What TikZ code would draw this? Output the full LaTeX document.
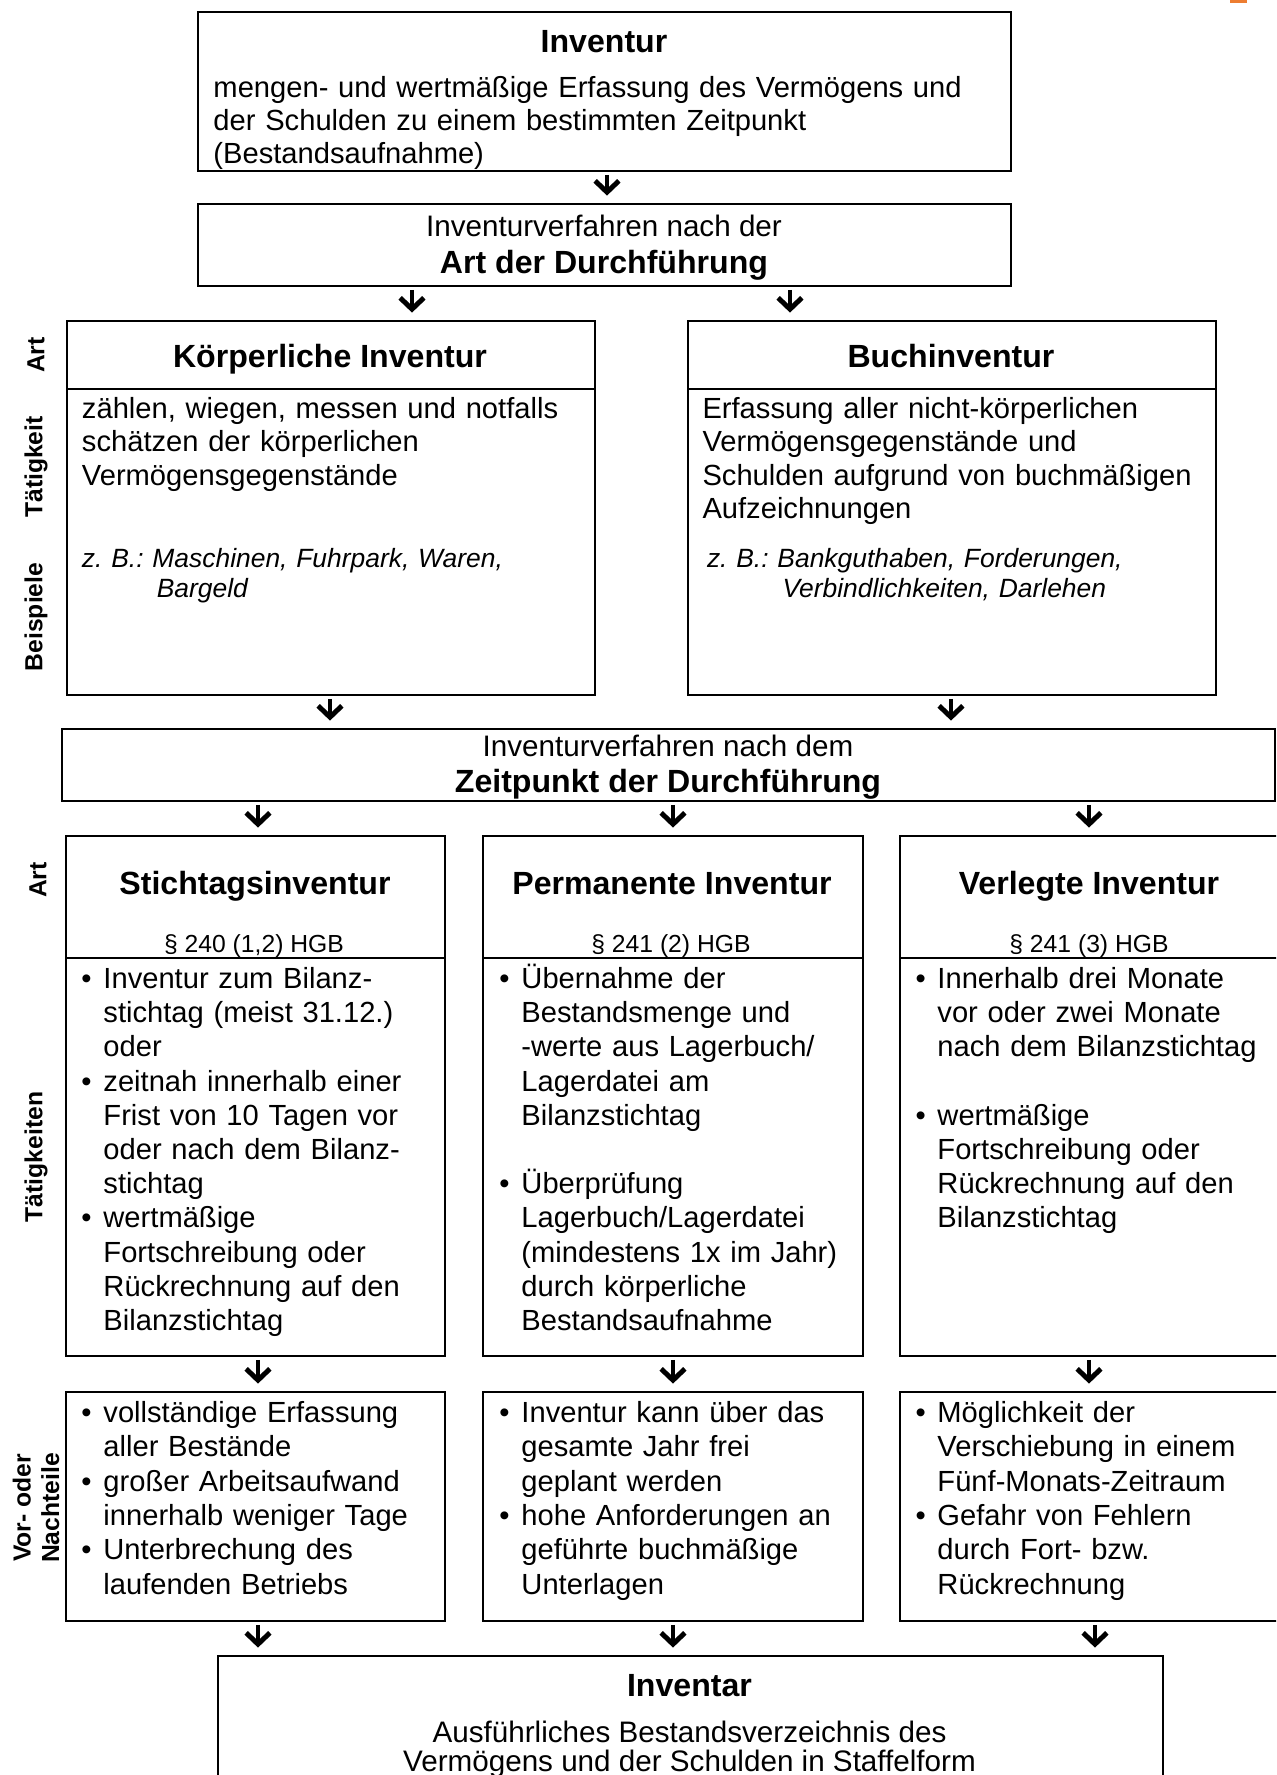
\documentclass[tikz,border=0pt]{standalone}
\usepackage{fontspec}
\setmainfont{Liberation Sans}
\usetikzlibrary{arrows.meta}
\definecolor{markorange}{RGB}{237,125,49}
\def\pxu{0.405pt}
\frenchspacing
\newcommand\ft{\fontsize{13}{15}\selectfont\bfseries}
\newcommand\fpar{\fontsize{10}{12}\selectfont}
\newcommand\fside{\fontsize{10}{11.5}\selectfont\bfseries}
\newcommand\itmf{\noindent\hangindent=8.9pt\hangafter=1\makebox[8.9pt][l]{•}}
\newcommand\itm{\par\itmf}
\newcommand\Bx[5]{\node[box,minimum width={(#4-(#2))*\pxu},minimum height={(#5-(#3))*\pxu}] (#1) at (#2,#3) {};}
\begin{document}
\begin{tikzpicture}[x=0.405pt,y=-0.405pt,
  box/.style={draw,line width=0.8pt,inner sep=0pt,anchor=north west},
  rule/.style={line width=0.8pt},
  arr/.style={line width=2pt,-{Straight Barb[length=4.6pt,width=9.6pt]},shorten <=1.2pt,shorten >=3pt},
  txt/.style={inner sep=0pt,anchor=base west},
  ctr/.style={inner sep=0pt,anchor=base},
  side/.style={inner sep=0pt,rotate=90,font=\fside,align=center}]
\path[use as bounding box] (0,0) rectangle (1276,1775);
\clip (0,0) rectangle (1276,1775);
\fill[markorange] (1230,0) rectangle (1247,3);
% boxes
\Bx{inv}{197}{11}{1010}{170}
\Bx{art}{197}{203}{1010}{285}
\Bx{koerp}{66}{320}{594}{694}
\Bx{buch}{687}{320}{1215}{694}
\Bx{zeit}{61}{728}{1274}{800}
\Bx{stt}{65}{835}{444}{1355}
\Bx{perm}{482}{835}{862}{1355}
\Bx{verl}{899}{835}{1279}{1355}
\Bx{sttv}{65}{1391}{444}{1620}
\Bx{permv}{482}{1391}{862}{1620}
\Bx{verlv}{899}{1391}{1279}{1620}
\Bx{invtr}{217}{1655}{1162}{1800}
% header rules
\coordinate (h1) at (0,389);
\coordinate (h2) at (0,958);
\draw[rule] (koerp.west |- h1) -- (koerp.east |- h1);
\draw[rule] (buch.west |- h1) -- (buch.east |- h1);
\draw[rule] (stt.west |- h2) -- (stt.east |- h2);
\draw[rule] (perm.west |- h2) -- (perm.east |- h2);
\draw[rule] (verl.west |- h2) -- (verl.east |- h2);
% arrow columns
\coordinate (a1) at (607,0);
\coordinate (a2) at (412,0);
\coordinate (a3) at (790,0);
\coordinate (a4) at (330,0);
\coordinate (a5) at (951,0);
\coordinate (a6) at (258,0);
\coordinate (a7) at (673,0);
\coordinate (a8) at (1089,0);
\coordinate (a9) at (1095,0);
\draw[arr] (inv.south -| a1) -- (art.north -| a1);
\draw[arr] (art.south -| a2) -- (koerp.north -| a2);
\draw[arr] (art.south -| a3) -- (buch.north -| a3);
\draw[arr] (koerp.south -| a4) -- (zeit.north -| a4);
\draw[arr] (buch.south -| a5) -- (zeit.north -| a5);
\draw[arr] (zeit.south -| a6) -- (stt.north -| a6);
\draw[arr] (zeit.south -| a7) -- (perm.north -| a7);
\draw[arr] (zeit.south -| a8) -- (verl.north -| a8);
\draw[arr] (stt.south -| a6) -- (sttv.north -| a6);
\draw[arr] (perm.south -| a7) -- (permv.north -| a7);
\draw[arr] (verl.south -| a8) -- (verlv.north -| a8);
\draw[arr] (sttv.south -| a6) -- (invtr.north -| a6);
\draw[arr] (permv.south -| a7) -- (invtr.north -| a7);
\draw[arr] (verlv.south -| a9) -- (invtr.north -| a9);
% top box
\node[ctr] (tInv) at (604,52) {\ft Inventur};
\node[txt,text width=330pt,font={\fontsize{11.8}{13.4}\selectfont}] (bInv) at (213,97) {mengen- und wertmäßige Erfassung des Vermögens und\newline der Schulden zu einem bestimmten Zeitpunkt\newline (Bestandsaufnahme)\par};
% art box
\node[ctr] (tArt1) at (604,236) {\fontsize{12}{14}\selectfont Inventurverfahren nach der};
\node[ctr] (tArt2) at (604,273) {\ft Art der Durchführung};
% koerperliche / buch
\node[ctr] (tK) at (330,367) {\ft Körperliche Inventur};
\node[ctr] (tB) at (951,367) {\ft Buchinventur};
\node[txt,text width=215pt,font={\fontsize{11.8}{13.6}\selectfont}] (bK) at (81.5,418) {zählen, wiegen, messen und notfalls\newline schätzen der körperlichen\newline Vermögensgegenstände\par};
\node[txt,text width=215pt,font={\fontsize{11.8}{13.6}\selectfont}] (bB) at (702,418) {Erfassung aller nicht-körperlichen\newline Vermögensgegenstände und\newline Schulden aufgrund von buchmäßigen\newline Aufzeichnungen\par};
\node[txt,text width=220pt,font={\fontsize{10.7}{12.2}\selectfont\itshape}] (exK) at (81.5,567) {z. B.: Maschinen, Fuhrpark, Waren,\newline\hspace*{30.3pt}Bargeld\par};
\node[txt,text width=220pt,font={\fontsize{10.7}{12.2}\selectfont\itshape}] (exB) at (706.5,567) {z. B.: Bankguthaben, Forderungen,\newline\hspace*{30.6pt}Verbindlichkeiten, Darlehen\par};
% zeitpunkt box
\node[ctr] (tZ1) at (668,756) {\fontsize{12}{14}\selectfont Inventurverfahren nach dem};
\node[ctr] (tZ2) at (668,792) {\ft Zeitpunkt der Durchführung};
% three kinds
\node[ctr] (tS) at (255,894) {\ft Stichtagsinventur};
\node[ctr] (tP) at (672,894) {\ft Permanente Inventur};
\node[ctr] (tV) at (1089,894) {\ft Verlegte Inventur};
\node[ctr] (pS) at (254,952) {\fpar § 240 (1,2) HGB};
\node[ctr] (pP) at (671,952) {\fpar § 241 (2) HGB};
\node[ctr] (pV) at (1089,952) {\fpar § 241 (3) HGB};
\node[txt,text width=180pt,font={\fontsize{11.8}{13.85}\selectfont}] (bS) at (81,988.5) {%
\itmf Inventur zum Bilanz-\newline stichtag (meist 31.12.)\newline oder
\itm zeitnah innerhalb einer\newline Frist von 10 Tagen vor\newline oder nach dem Bilanz-\newline stichtag
\itm wertmäßige\newline Fortschreibung oder\newline Rückrechnung auf den\newline Bilanzstichtag\par};
\node[txt,text width=180pt,font={\fontsize{11.8}{13.85}\selectfont}] (bP) at (499,988.5) {%
\itmf Übernahme der\newline Bestandsmenge und\newline -werte aus Lagerbuch/\newline Lagerdatei am\newline Bilanzstichtag
\par\mbox{}
\itm Überprüfung\newline Lagerbuch/Lagerdatei\newline (mindestens 1x im Jahr)\newline durch körperliche\newline Bestandsaufnahme\par};
\node[txt,text width=180pt,font={\fontsize{11.8}{13.85}\selectfont}] (bV) at (915,988.5) {%
\itmf Innerhalb drei Monate\newline vor oder zwei Monate\newline nach dem Bilanzstichtag
\par\mbox{}
\itm wertmäßige\newline Fortschreibung oder\newline Rückrechnung auf den\newline Bilanzstichtag\par};
% pros / cons
\node[txt,text width=180pt,font={\fontsize{11.8}{13.9}\selectfont}] (vS) at (81,1422.5) {%
\itmf vollständige Erfassung\newline aller Bestände
\itm großer Arbeitsaufwand\newline innerhalb weniger Tage
\itm Unterbrechung des\newline laufenden Betriebs\par};
\node[txt,text width=180pt,font={\fontsize{11.8}{13.9}\selectfont}] (vP) at (499,1422.5) {%
\itmf Inventur kann über das\newline gesamte Jahr frei\newline geplant werden
\itm hohe Anforderungen an\newline geführte buchmäßige\newline Unterlagen\par};
\node[txt,text width=180pt,font={\fontsize{11.8}{13.9}\selectfont}] (vV) at (915,1422.5) {%
\itmf Möglichkeit der\newline Verschiebung in einem\newline Fünf-Monats-Zeitraum
\itm Gefahr von Fehlern\newline durch Fort- bzw.\newline Rückrechnung\par};
% inventar
\node[ctr] (tI) at (689.5,1696.5) {\ft Inventar};
\node[ctr] (bI1) at (689.5,1742) {\fontsize{12}{14}\selectfont Ausführliches Bestandsverzeichnis des};
\node[ctr] (bI2) at (689.5,1771) {\fontsize{12}{14}\selectfont Vermögens und der Schulden in Staffelform};
% side labels
\node[side] (sArt1) at (36,355) {Art};
\node[side] (sTaet1) at (36,467) {Tätigkeit};
\node[side] (sBsp) at (36,617) {Beispiele};
\node[side] (sArt2) at (38,880) {Art};
\node[side] (sTaet2) at (36,1157) {Tätigkeiten};
\node[side] (sVor) at (36,1508) {Vor- oder\\Nachteile};
\end{tikzpicture}
\end{document}
